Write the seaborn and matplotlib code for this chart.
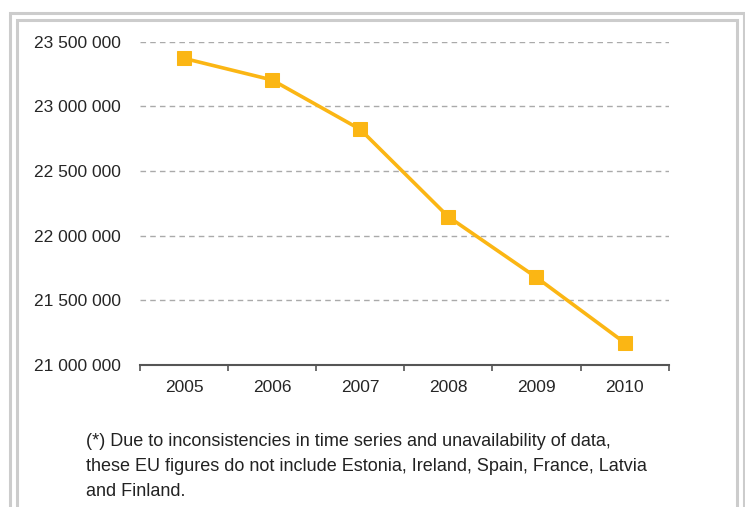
import matplotlib
matplotlib.use("Agg")
import matplotlib.pyplot as plt
import seaborn as sns
import pandas as pd
from matplotlib.patches import Rectangle
from matplotlib.ticker import FuncFormatter, FixedLocator

years = ["2005", "2006", "2007", "2008", "2009", "2010"]
values = [23371000, 23204000, 22822000, 22146000, 21677000, 21173000]
y_ticks = [21000000, 21500000, 22000000, 22500000, 23000000, 23500000]
footnote = ("(*) Due to inconsistencies in time series and unavailability of data,\n"
            "these EU figures do not include Estonia, Ireland, Spain, France, Latvia\n"
            "and Finland.")

sns.set_theme(style="white")
plt.rcParams['font.family'] = ['Liberation Sans', 'DejaVu Sans']

W, H = 745, 507
fig = plt.figure(figsize=(W / 100, H / 100), dpi=100)
fig.patch.set_facecolor("white")

# frames
fig.add_artist(Rectangle((9.5 / W, -0.1), (743.5 - 9.5) / W, 1.1 - 12.5 / H,
                         transform=fig.transFigure, fill=False,
                         edgecolor="#cccccc", linewidth=2.2))
fig.add_artist(Rectangle((16.5 / W, -0.1), (737 - 16.5) / W, 1.1 - 19.5 / H,
                         transform=fig.transFigure, fill=False,
                         edgecolor="#cccccc", linewidth=2.2))

ax = fig.add_axes([140 / W, (H - 365) / H, (668.6 - 140) / W, (365 - 41.7) / H])
ax.set_facecolor("none")

df = pd.DataFrame({"year": years, "value": values})
sns.lineplot(data=df, x="year", y="value", ax=ax, color="#FBB614",
             linewidth=2.6, marker="s", markersize=9.5,
             markeredgecolor="#FBB614", sort=False)

ax.set_xlim(-0.5, len(years) - 0.5)
ax.set_ylim(y_ticks[0], y_ticks[-1])
ax.set_yticks(y_ticks)
ax.yaxis.set_major_formatter(FuncFormatter(lambda v, p: f"{int(v):,}".replace(",", " ")))
ax.set_xticks(range(len(years)))
ax.set_xticklabels(years)
ax.xaxis.set_minor_locator(FixedLocator([i - 0.5 for i in range(len(years) + 1)]))

ax.tick_params(axis="y", left=False, length=0, pad=14, labelsize=12.5, labelcolor="#262626")
ax.tick_params(axis="x", which="major", bottom=False, length=0, pad=11, labelsize=12.5,
               labelcolor="#262626")
ax.tick_params(axis="x", which="minor", bottom=True, length=4.5, width=1.2,
               color="#555555", direction="out")

for y in y_ticks[1:]:
    ax.axhline(y, color="#aaaaaa", linewidth=1, linestyle=(0, (4, 3)), zorder=0)

for s in ["left", "right", "top"]:
    ax.spines[s].set_visible(False)
ax.spines["bottom"].set_color("#555555")
ax.spines["bottom"].set_linewidth(1.5)
ax.set_xlabel("")
ax.set_ylabel("")

fig.text(86.5 / W, 1 - 433 / H, footnote, ha="left", va="top", fontsize=13,
         color="#222222", linespacing=1.6)

fig.savefig("out.png", dpi=100, facecolor="white")
